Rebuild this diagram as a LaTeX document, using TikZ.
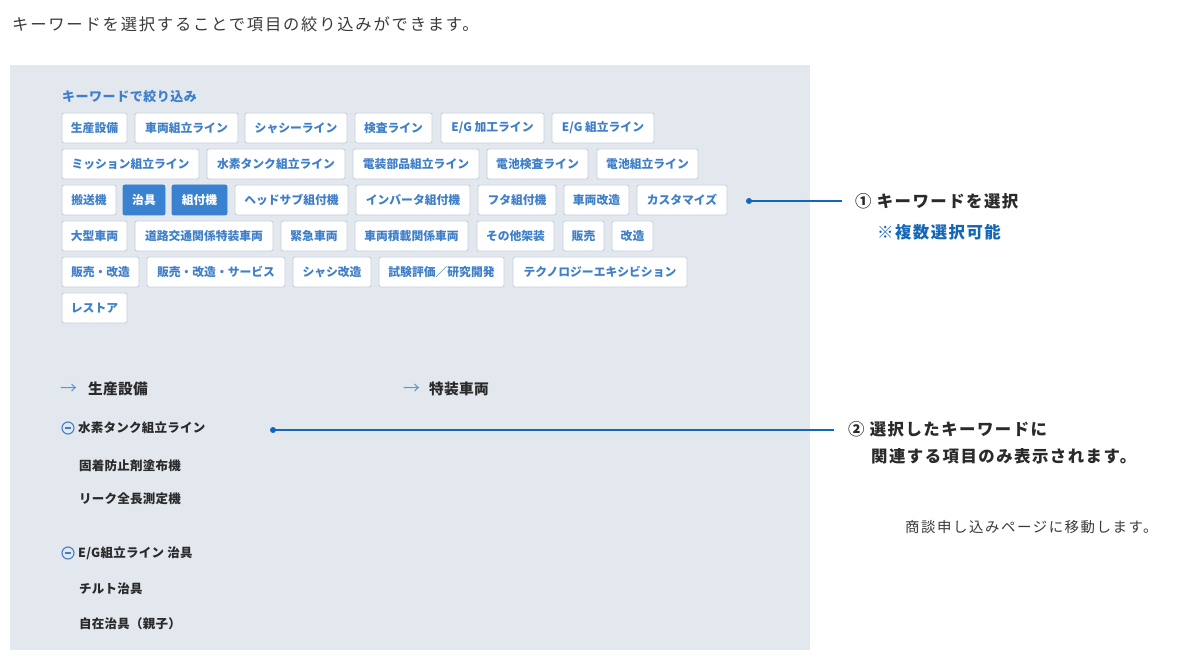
\documentclass[tikz,border=0pt]{standalone}
\usepackage{fontspec}
\setmainfont{Noto Sans CJK JP}
\newfontfamily\jp{Noto Sans CJK JP}
\newfontfamily\jpa[LetterSpace=2]{Noto Sans CJK JP}
\newfontfamily\jpb[LetterSpace=4]{Noto Sans CJK JP}
\newfontfamily\jpc[LetterSpace=9]{Noto Sans CJK JP}
\newfontfamily\jpd[LetterSpace=11]{Noto Sans CJK JP}
\definecolor{panel}{HTML}{E3E8EF}
\definecolor{kwblue}{HTML}{3F7FC9}
\definecolor{selblue}{HTML}{3A82D0}
\definecolor{bordercol}{HTML}{C6D1DE}
\definecolor{linkblue}{HTML}{1467B8}
\definecolor{darktext}{HTML}{2A2A2A}
\definecolor{arrowblue}{HTML}{5E96CF}
\definecolor{titletext}{HTML}{3A3A3A}
\tikzset{
  kwbox/.style={draw=bordercol, line width=0.9pt, fill=white, rounded corners=2pt, minimum height=30pt, inner sep=0pt, text=kwblue, font=\jp\bfseries\fontsize{11.8}{13}\selectfont},
  kwsel/.style={kwbox, fill=selblue, draw=selblue, text=white},
  item/.style={anchor=west, inner sep=0pt, text=darktext, font=\jpa\bfseries\fontsize{12.5}{14}\selectfont},
  head/.style={anchor=west, inner sep=0pt, text=darktext, font=\jpa\bfseries\fontsize{14.7}{17}\selectfont},
  arr/.style={anchor=west, inner sep=0pt, text=arrowblue, font=\jp\fontsize{17}{18}\selectfont},
  note/.style={anchor=west, inner sep=0pt, text=darktext, font=\jpc\bfseries\fontsize{16.4}{19}\selectfont},
  minusicon/.style={circle, draw=kwblue, line width=1.1pt, minimum size=12pt, inner sep=0pt},
  conn/.style={draw=linkblue, line width=1.5pt},
  dotc/.style={circle, fill=linkblue, minimum size=6pt, inner sep=0pt},
}
\begin{document}
\begin{tikzpicture}[x=1pt,y=-1pt]
\useasboundingbox (0,0) rectangle (1200,668);
\fill[white] (0,0) rectangle (1200,668);
\fill[panel] (10,65) rectangle (810,650);
% title
\node[anchor=west, inner sep=0pt, text=titletext, font=\jpd\fontsize{16.3}{19}\selectfont] (title) at (12,24) {キーワードを選択することで項目の絞り込みができます。};
% keyword label
\node[anchor=west, inner sep=0pt, text=kwblue, font=\jpb\bfseries\fontsize{13}{15}\selectfont] (kwlabel) at (62,97) {キーワードで絞り込み};
% row 1
\node[kwbox, minimum width=65pt] (b11) at (94.5,128) {生産設備};
\node[kwbox, minimum width=103pt] (b12) at (186.5,128) {車両組立ライン};
\node[kwbox, minimum width=102pt] (b13) at (296,128) {シャシーライン};
\node[kwbox, minimum width=77pt] (b14) at (393.5,128) {検査ライン};
\node[kwbox, minimum width=103pt] (b15) at (492.5,128) {E/G 加工ライン};
\node[kwbox, minimum width=102pt] (b16) at (603,128) {E/G 組立ライン};
% row 2
\node[kwbox, minimum width=137pt] (b21) at (130.5,164) {ミッション組立ライン};
\node[kwbox, minimum width=138pt] (b22) at (276,164) {水素タンク組立ライン};
\node[kwbox, minimum width=126pt] (b23) at (416,164) {電装部品組立ライン};
\node[kwbox, minimum width=101pt] (b24) at (537.5,164) {電池検査ライン};
\node[kwbox, minimum width=101pt] (b25) at (647.5,164) {電池組立ライン};
% row 3
\node[kwbox, minimum width=54pt] (b31) at (89,200) {搬送機};
\node[kwsel, minimum width=42pt] (b32) at (144,200) {治具};
\node[kwsel, minimum width=55pt] (b33) at (199.5,200) {組付機};
\node[kwbox, minimum width=113pt] (b34) at (291.5,200) {ヘッドサブ組付機};
\node[kwbox, minimum width=114pt] (b35) at (413,200) {インバータ組付機};
\node[kwbox, minimum width=78pt] (b36) at (517,200) {フタ組付機};
\node[kwbox, minimum width=65pt] (b37) at (596.5,200) {車両改造};
\node[kwbox, minimum width=90pt] (b38) at (682,200) {カスタマイズ};
% row 4
\node[kwbox, minimum width=65pt] (b41) at (94.5,236) {大型車両};
\node[kwbox, minimum width=138pt] (b42) at (204,236) {道路交通関係特装車両};
\node[kwbox, minimum width=66pt] (b43) at (314,236) {緊急車両};
\node[kwbox, minimum width=113pt] (b44) at (411.5,236) {車両積載関係車両};
\node[kwbox, minimum width=77pt] (b45) at (515.5,236) {その他架装};
\node[kwbox, minimum width=41pt] (b46) at (583.5,236) {販売};
\node[kwbox, minimum width=41pt] (b47) at (632.5,236) {改造};
% row 5
\node[kwbox, minimum width=77pt] (b51) at (100.5,272) {販売・改造};
\node[kwbox, minimum width=138pt] (b52) at (216,272) {販売・改造・サービス};
\node[kwbox, minimum width=78pt] (b53) at (332,272) {シャシ改造};
\node[kwbox, minimum width=125pt] (b54) at (441.5,272) {試験評価／研究開発};
\node[kwbox, minimum width=174pt] (b55) at (600,272) {テクノロジーエキシビション};
% row 6
\node[kwbox, minimum width=65pt] (b61) at (94.5,308) {レストア};
% section headings
\node[arr] (a1) at (60,389) {→};
\node[head] (h1) at (88,389) {生産設備};
\node[arr] (a2) at (403,389) {→};
\node[head] (h2) at (429,389) {特装車両};
% group 1
\node[minusicon] (m1) at (68,428) {};
\draw[kwblue, line width=1.1pt] ([xshift=-3.2pt]m1.center) -- ([xshift=3.2pt]m1.center);
\node[item] (g1) at (78,428) {水素タンク組立ライン};
\node[item] (i11) at (79,466) {固着防止剤塗布機};
\node[item] (i12) at (79,499) {リーク全長測定機};
% group 2
\node[minusicon] (m2) at (68,553) {};
\draw[kwblue, line width=1.1pt] ([xshift=-3.2pt]m2.center) -- ([xshift=3.2pt]m2.center);
\node[item] (g2) at (78,553) {E/G組立ライン 治具};
\node[item] (i21) at (79,589) {チルト治具};
\node[item] (i22) at (79,624) {自在治具（親子）};
% connectors
\node[dotc] (d1) at (749,201) {};
\coordinate (e1) at (842,201);
\draw[conn] (d1.center) -- (e1);
\node[dotc] (d2) at (273,430) {};
\coordinate (e2) at (834,430);
\draw[conn] (d2.center) -- (e2);
% annotations
\node[note] (n1) at (855,201) {① キーワードを選択};
\node[note, text=linkblue] (n1b) at (877,232) {※複数選択可能};
\node[note] (n2) at (848,429) {② 選択したキーワードに};
\node[note] (n2b) at (871,456) {関連する項目のみ表示されます。};
\node[anchor=west, inner sep=0pt, text=titletext, font=\jpd\fontsize{14.4}{17}\selectfont] (foot) at (905,527) {商談申し込みページに移動します。};
\end{tikzpicture}
\end{document}
